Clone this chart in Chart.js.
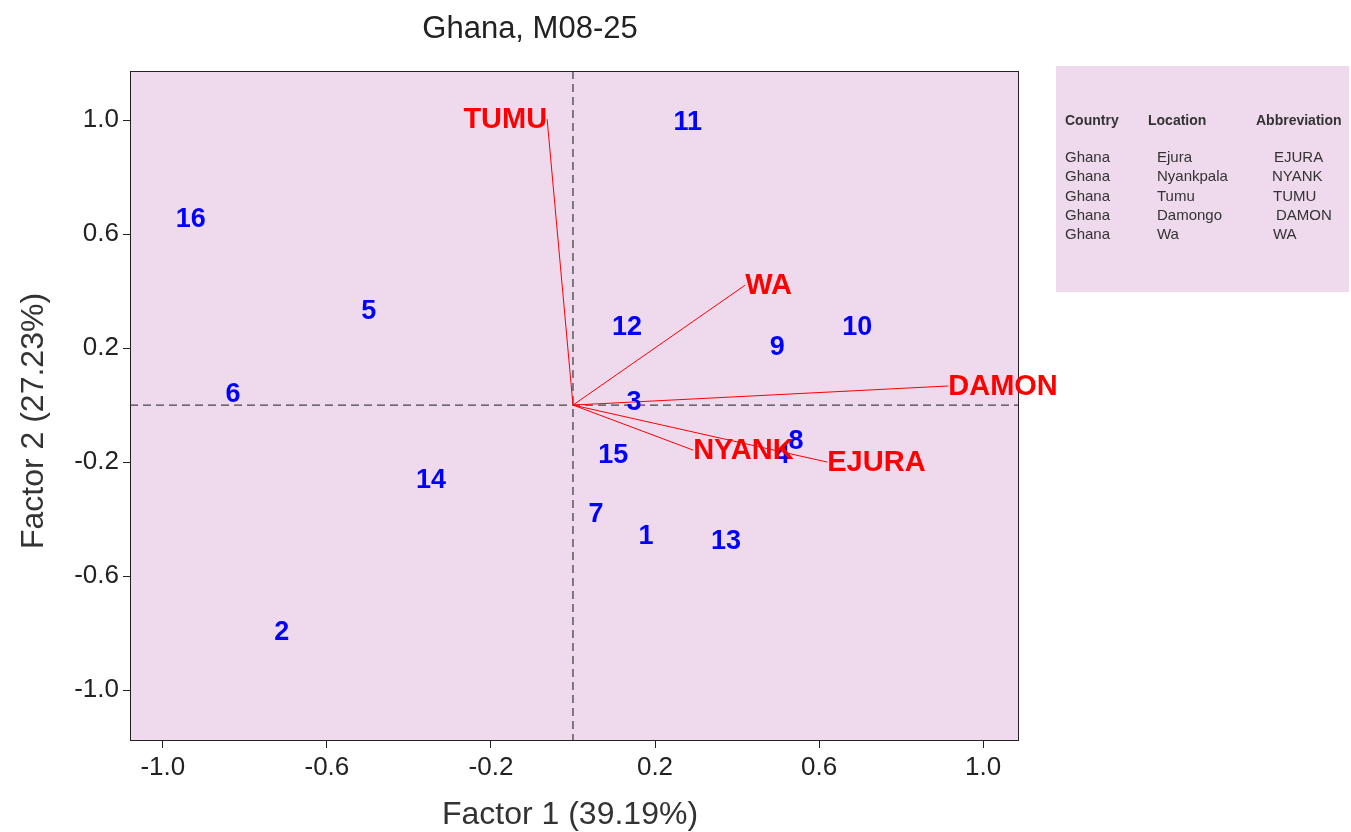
<!DOCTYPE html>
<html>
<head>
<meta charset="utf-8">
<script src="https://cdn.jsdelivr.net/npm/chart.js@4.4.1/dist/chart.umd.min.js"></script>
<style>
  html, body { margin: 0; padding: 0; background: #fff; }
  #wrap { width: 1351px; height: 832px; position: relative; }
</style>
</head>
<body>
<div id="wrap"><canvas id="chart" width="1351" height="832"></canvas></div>
<script>
// genotype scores (blue numbers)
const genotypes = ['1', '2', '3', '4', '5', '6', '7', '8', '9', '10', '11', '12', '13', '14', '15', '16'];
const genoX = [0.178, -0.710, 0.149, 0.510, -0.498, -0.829, 0.056, 0.544, 0.498, 0.693, 0.280, 0.132, 0.373, -0.346, 0.098, -0.932];
const genoY = [-0.456, -0.793, 0.014, -0.175, 0.330, 0.039, -0.382, -0.126, 0.207, 0.277, 0.996, 0.274, -0.477, -0.263, -0.172, 0.653];

// environment vectors (red)
const envs = ['EJURA', 'NYANK', 'TUMU', 'DAMON', 'WA'];
const envX = [0.620, 0.293, -0.063, 0.915, 0.420];
const envY = [-0.200, -0.158, 1.003, 0.067, 0.421];

// legend table
const legCountry = ['Ghana', 'Ghana', 'Ghana', 'Ghana', 'Ghana'];
const legLocation = ['Ejura', 'Nyankpala', 'Tumu', 'Damongo', 'Wa'];
const legAbbrev = ['EJURA', 'NYANK', 'TUMU', 'DAMON', 'WA'];

const tickVals = [-1.0, -0.6, -0.2, 0.2, 0.6, 1.0];

const FONT = '"Liberation Sans", Arial, sans-serif';
const PINK = '#efd9ec';

const datasets = envs.map((name, i) => ({
  type: 'line',
  label: name,
  data: [{x: 0, y: 0}, {x: envX[i], y: envY[i]}],
  borderColor: '#ff0000',
  borderWidth: 1,
  pointRadius: 0,
  fill: false
}));
datasets.push({
  type: 'scatter',
  label: 'genotypes',
  data: genotypes.map((g, i) => ({x: genoX[i], y: genoY[i]})),
  pointRadius: 0
});

const biplotPlugin = {
  id: 'biplot',
  beforeDraw(chart) {
    const {ctx, chartArea: a} = chart;
    ctx.save();
    ctx.fillStyle = PINK;
    ctx.fillRect(a.left, a.top, a.right - a.left, a.bottom - a.top);
    // zero reference lines
    const xs = chart.scales.x, ys = chart.scales.y;
    const x0 = xs.getPixelForValue(0), y0 = ys.getPixelForValue(0);
    ctx.strokeStyle = '#444';
    ctx.lineWidth = 1.3;
    ctx.setLineDash([8, 5]);
    ctx.beginPath();
    ctx.moveTo(x0, a.top); ctx.lineTo(x0, a.bottom);
    ctx.moveTo(a.left, y0); ctx.lineTo(a.right, y0);
    ctx.stroke();
    ctx.restore();
  },
  afterDraw(chart) {
    const {ctx, chartArea: a} = chart;
    ctx.save();
    // box
    ctx.strokeStyle = '#222';
    ctx.lineWidth = 1;
    ctx.strokeRect(a.left + 0.5, a.top + 0.5, a.right - a.left, a.bottom - a.top);

    // genotype labels
    const gMeta = chart.getDatasetMeta(datasets.length - 1);
    ctx.font = 'bold 27px ' + FONT;
    ctx.fillStyle = '#0000ff';
    ctx.textAlign = 'center';
    ctx.textBaseline = 'middle';
    gMeta.data.forEach((pt, i) => ctx.fillText(genotypes[i], pt.x, pt.y + 1));

    // environment labels
    ctx.font = 'bold 29px ' + FONT;
    ctx.fillStyle = '#ff0000';
    envs.forEach((name, i) => {
      const pt = chart.getDatasetMeta(i).data[1];
      ctx.textAlign = envX[i] < 0 ? 'right' : 'left';
      ctx.fillText(name, pt.x, pt.y + 1);
    });

    // title
    ctx.fillStyle = '#222';
    ctx.font = '31px ' + FONT;
    ctx.textAlign = 'center';
    ctx.fillText('Ghana, M08-25', 530, 29);

    // axis titles
    ctx.fillStyle = '#333';
    ctx.font = '32px ' + FONT;
    ctx.fillText('Factor 1 (39.19%)', 570, 815);
    ctx.save();
    ctx.translate(34, 421);
    ctx.rotate(-Math.PI / 2);
    ctx.fillText('Factor 2 (27.23%)', 0, 0);
    ctx.restore();

    // legend box
    ctx.fillStyle = PINK;
    ctx.fillRect(1056, 66, 293, 226);
    ctx.fillStyle = '#333';
    ctx.textAlign = 'left';
    ctx.font = 'bold 14px ' + FONT;
    ctx.fillText('Country', 1065, 121);
    ctx.fillText('Location', 1148, 121);
    ctx.fillText('Abbreviation', 1256, 121);
    ctx.font = '15px ' + FONT;
    const abX = [1274, 1272, 1273, 1276, 1273];
    legCountry.forEach((c, i) => {
      const y = 158 + i * 19.2;
      ctx.fillText(c, 1065, y);
      ctx.fillText(legLocation[i], 1157, y);
      ctx.fillText(legAbbrev[i], abX[i], y);
    });
    ctx.restore();
  }
};

function fixedTicks(scale) {
  scale.ticks = tickVals.map(v => ({value: v}));
}

new Chart(document.getElementById('chart'), {
  data: {datasets: datasets},
  options: {
    responsive: false,
    animation: false,
    layout: {padding: {top: 71, right: 333, left: 0, bottom: 0}},
    plugins: {legend: {display: false}, tooltip: {enabled: false}, title: {display: false}},
    scales: {
      x: {
        type: 'linear',
        min: -1.08,
        max: 1.085,
        afterBuildTicks: fixedTicks,
        afterFit(scale) { scale.height = 92; },
        grid: {drawOnChartArea: false, drawTicks: true, tickLength: 8, color: '#222'},
        border: {display: true, color: '#222'},
        ticks: {
          color: '#222',
          font: {family: FONT, size: 26},
          padding: 4,
          callback: v => v.toFixed(1)
        }
      },
      y: {
        type: 'linear',
        min: -1.175,
        max: 1.172,
        afterBuildTicks: fixedTicks,
        afterFit(scale) { scale.width = 130; },
        grid: {drawOnChartArea: false, drawTicks: true, tickLength: 7, color: '#222'},
        border: {display: true, color: '#222'},
        ticks: {
          color: '#222',
          font: {family: FONT, size: 26},
          padding: 4,
          callback: v => v.toFixed(1)
        }
      }
    }
  },
  plugins: [biplotPlugin]
});
</script>
</body>
</html>
